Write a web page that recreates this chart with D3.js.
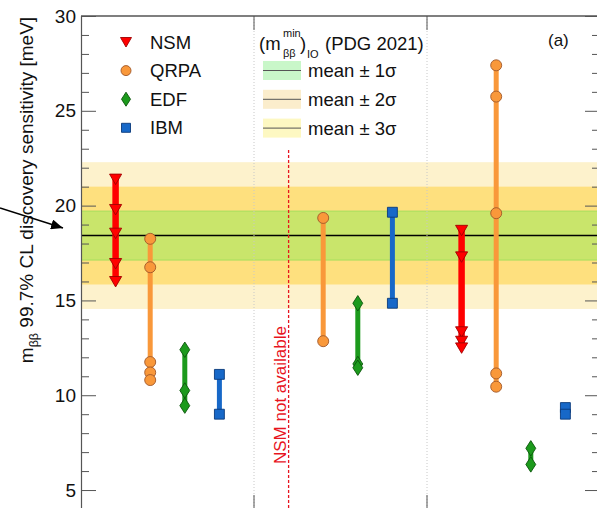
<!DOCTYPE html>
<html>
<head>
<meta charset="utf-8">
<script src="https://cdnjs.cloudflare.com/ajax/libs/d3/7.8.5/d3.min.js"></script>
<style>
  body { margin: 0; background: #fff; }
  text { font-family: "Liberation Sans", Arial, Helvetica, sans-serif; }
</style>
</head>
<body>
<div id="chart"></div>
<script>
// Valores (meV)
const models = ['NSM', 'QRPA', 'EDF', 'IBM'];
const nsmValues  = [[21.4, 19.8, 18.55, 16.95, 16.0], [], [18.7, 17.3, 13.35, 12.85, 12.5]];
const qrpaValues = [[18.25, 16.75, 11.75, 11.2, 10.8], [19.35, 12.85], [27.4, 25.75, 19.6, 11.15, 10.45]];
const edfValues  = [[12.4, 10.25, 9.45], [14.85, 11.65, 11.45], [7.2, 6.35]];
const ibmValues  = [[11.1, 9.0], [19.65, 14.85], [9.35, 9.0]];

// (m_bb^min)_IO, PDG 2021
const meanValue = 18.42;
const sigmaValue = 1.29;
const sigmaLabels = ['mean \u00b1 1\u03c3', 'mean \u00b1 2\u03c3', 'mean \u00b1 3\u03c3'];

const yTicksMajor = [5, 10, 15, 20, 25, 30];

const width = 597;
const height = 508;
const mLeft = 81, mRight = 600, mTop = 16, mBottom = 509;

const svg = d3.select('#chart')
  .append('svg')
  .attr('width', width)
  .attr('height', height);

// Escalas: cada grupo ocupa 5 huecos, los modelos en los huecos 1..4
const x = d3.scaleLinear().domain([0, 15]).range([mLeft, mRight]);
const y = d3.scaleLinear().domain([4, 30]).range([mBottom, mTop]);

const colors = { NSM: '#ff0000', QRPA: '#f9983a', EDF: '#1c9a1c', IBM: '#1768c8' };
const strokes = { NSM: '#a00000', QRPA: '#a0582a', EDF: '#0b550b', IBM: '#0a3a7a' };
const lineW = { NSM: 6.5, QRPA: 5, EDF: 5, IBM: 5 };
const allValues = { NSM: nsmValues, QRPA: qrpaValues, EDF: edfValues, IBM: ibmValues };

// Bandas sigma (de fuera a dentro)
const bandColors = ['#fdf2cc', '#fee07e', '#c9e56b'];
[3, 2, 1].forEach((k, i) => {
  svg.append('rect')
    .attr('x', mLeft)
    .attr('width', mRight - mLeft)
    .attr('y', y(meanValue + k * sigmaValue))
    .attr('height', y(meanValue - k * sigmaValue) - y(meanValue + k * sigmaValue))
    .attr('fill', bandColors[i]);
});
[1, -1].forEach(s => {
  svg.append('line')
    .attr('x1', mLeft).attr('x2', mRight)
    .attr('y1', y(meanValue + s * sigmaValue)).attr('y2', y(meanValue + s * sigmaValue))
    .attr('stroke', '#a6de5c').attr('stroke-width', 1);
});
svg.append('line')
  .attr('x1', mLeft).attr('x2', mRight)
  .attr('y1', y(meanValue)).attr('y2', y(meanValue))
  .attr('stroke', '#000').attr('stroke-width', 1.5);

// Separadores de grupos
[5, 10].forEach(g => {
  svg.append('line')
    .attr('x1', x(g)).attr('x2', x(g))
    .attr('y1', mTop).attr('y2', mBottom)
    .attr('stroke', '#c8c8c8').attr('stroke-width', 1)
    .attr('stroke-dasharray', '1,2');
  svg.append('line')
    .attr('x1', x(g)).attr('x2', x(g))
    .attr('y1', mTop).attr('y2', mTop + 14)
    .attr('stroke', '#555').attr('stroke-width', 1);
  svg.append('line')
    .attr('x1', x(g)).attr('x2', x(g))
    .attr('y1', mBottom).attr('y2', mBottom - 14)
    .attr('stroke', '#555').attr('stroke-width', 1);
});

// NSM no disponible en el grupo 2
svg.append('line')
  .attr('x1', x(6)).attr('x2', x(6))
  .attr('y1', 150).attr('y2', height)
  .attr('stroke', '#e8141e').attr('stroke-width', 1.3)
  .attr('stroke-dasharray', '3,2');
svg.append('text')
  .attr('transform', `translate(${x(6) - 3}, 464) rotate(-90)`)
  .attr('font-size', 17)
  .attr('fill', '#e8141e')
  .text('NSM not available');

// Marcadores
function markerPath(model, s) {
  if (model === 'NSM') return `M${-s * 0.55},${-s * 0.45}L${s * 0.55},${-s * 0.45}L0,${s * 0.5}Z`;
  if (model === 'EDF') return `M0,${-s * 0.7}L${s * 0.45},0L0,${s * 0.7}L${-s * 0.45},0Z`;
  if (model === 'IBM') return `M${-s * 0.45},${-s * 0.45}H${s * 0.45}V${s * 0.45}H${-s * 0.45}Z`;
  return null;
}
function drawMarker(g, model, cx, cy, s) {
  if (model === 'QRPA') {
    g.append('circle').attr('cx', cx).attr('cy', cy).attr('r', s * 0.5)
      .attr('fill', colors[model]).attr('stroke', strokes[model]).attr('stroke-width', 0.9);
  } else {
    g.append('path').attr('d', markerPath(model, s))
      .attr('transform', `translate(${cx},${cy})`)
      .attr('fill', colors[model]).attr('stroke', strokes[model]).attr('stroke-width', 0.9);
  }
}

const dataG = svg.append('g');
models.forEach((m, mi) => {
  allValues[m].forEach((vals, gi) => {
    if (!vals.length) return;
    const cx = x(gi * 5 + mi + 1);
    const ext = d3.extent(vals);
    dataG.append('line')
      .attr('x1', cx).attr('x2', cx)
      .attr('y1', y(ext[1])).attr('y2', y(ext[0]))
      .attr('stroke', colors[m]).attr('stroke-width', lineW[m]);
    vals.forEach(v => drawMarker(dataG, m, cx, y(v), 11));
  });
});

// Ejes
const axisL = d3.axisLeft(y).tickValues(yTicksMajor).tickSize(-15).tickPadding(5);
const gL = svg.append('g').attr('transform', `translate(${mLeft},0)`).call(axisL);
const axisR = d3.axisRight(y).tickValues(yTicksMajor).tickSize(-15).tickFormat('');
const gR = svg.append('g').attr('transform', `translate(${mRight},0)`).call(axisR);
const minorTicks = d3.range(4, 31).filter(v => v % 5 !== 0);
const axisLm = d3.axisLeft(y).tickValues(minorTicks).tickSize(-8).tickFormat('');
const axisRm = d3.axisRight(y).tickValues(minorTicks).tickSize(-8).tickFormat('');
svg.append('g').attr('transform', `translate(${mLeft},0)`).call(axisLm).select('.domain').remove();
svg.append('g').attr('transform', `translate(${mRight},0)`).call(axisRm).select('.domain').remove();
svg.selectAll('.tick line').attr('stroke', '#555');
svg.selectAll('.domain').attr('stroke', '#555').attr('stroke-width', 1.2);
gL.selectAll('text').attr('font-size', 19).attr('fill', '#111');
svg.append('line').attr('x1', mLeft).attr('x2', mRight).attr('y1', mTop).attr('y2', mTop)
  .attr('stroke', '#555').attr('stroke-width', 1.5);

// Titulo eje Y
const yt = svg.append('text')
  .attr('transform', 'translate(33,190) rotate(-90)')
  .attr('text-anchor', 'middle')
  .attr('font-size', 19)
  .attr('fill', '#111');
yt.append('tspan').text('m');
yt.append('tspan').attr('font-size', 12.5).attr('dy', 5).text('\u03b2\u03b2');
yt.append('tspan').attr('dy', -5).text(' 99.7% CL discovery sensitivity [meV]');

// Flecha
svg.append('defs').append('marker')
  .attr('id', 'arrow')
  .attr('viewBox', '0 0 12 10')
  .attr('refX', 12).attr('refY', 5)
  .attr('markerWidth', 12).attr('markerHeight', 10)
  .attr('markerUnits', 'userSpaceOnUse')
  .attr('orient', 'auto')
  .append('path').attr('d', 'M0,0L12,5L0,10Z').attr('fill', '#000');
svg.append('line')
  .attr('x1', 0).attr('y1', 208).attr('x2', 63).attr('y2', 228)
  .attr('stroke', '#000').attr('stroke-width', 1.6)
  .attr('marker-end', 'url(#arrow)');

// Leyenda modelos
models.forEach((m, i) => {
  const ly = 42 + i * 28.6;
  drawMarker(svg, m, 126, ly, 10);
  svg.append('text').attr('x', 150).attr('y', ly + 6.5)
    .attr('font-size', 18.5).attr('fill', '#111').text(m);
});

// Leyenda bandas
const t = svg.append('g').attr('fill', '#111');
t.append('text').attr('x', 259).attr('y', 50).attr('font-size', 18.5).text('(m');
t.append('text').attr('x', 283).attr('y', 37).attr('font-size', 11).text('min');
t.append('text').attr('x', 283).attr('y', 57).attr('font-size', 11).text('\u03b2\u03b2');
t.append('text').attr('x', 300).attr('y', 50).attr('font-size', 18.5).text(')');
t.append('text').attr('x', 307).attr('y', 58).attr('font-size', 11).text('IO');
t.append('text').attr('x', 325).attr('y', 50).attr('font-size', 18.5).text('(PDG 2021)');

const swatchColors = ['#c9f7c9', '#fbedcc', '#fdf8c2'];
sigmaLabels.forEach((lab, i) => {
  const cy = 70.5 + i * 28.8;
  svg.append('rect').attr('x', 263).attr('y', cy - 9.5).attr('width', 38).attr('height', 19)
    .attr('fill', swatchColors[i]);
  svg.append('line').attr('x1', 263).attr('x2', 301).attr('y1', cy).attr('y2', cy)
    .attr('stroke', '#555').attr('stroke-width', 1);
  svg.append('text').attr('x', 308).attr('y', cy + 6.5)
    .attr('font-size', 18.5).attr('fill', '#111').text(lab);
});

svg.append('text').attr('x', 548).attr('y', 46).attr('font-size', 17).attr('fill', '#111').text('(a)');
</script>
</body>
</html>
